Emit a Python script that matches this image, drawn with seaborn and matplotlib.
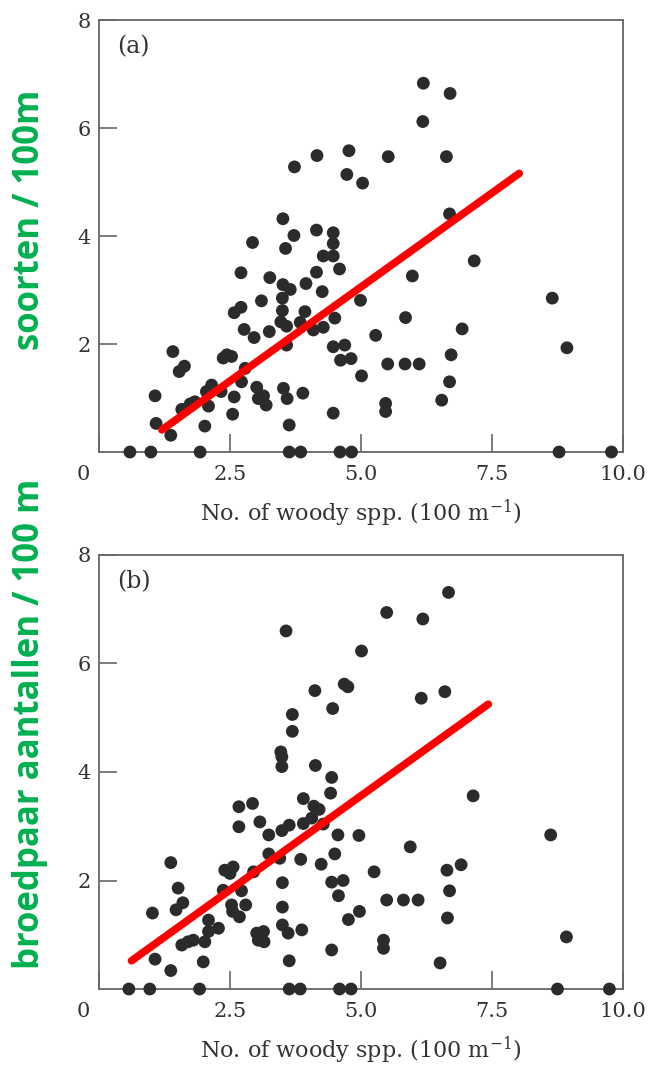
import numpy as np
import matplotlib
matplotlib.use("Agg")
import matplotlib.pyplot as plt
from matplotlib.transforms import ScaledTranslation
import seaborn as sns
import pandas as pd

# panel (a): species per 100 m vs woody spp.
A_X = [3.73, 4.16, 4.77, 4.73, 5.03, 3.51, 2.93, 3.72, 3.56, 4.15, 4.47, 4.47, 4.28, 4.47,
       4.59, 2.71, 3.26, 4.15, 3.51, 3.65, 3.95, 4.26, 3.10, 3.50, 3.50, 3.93, 2.58, 2.71,
       4.99, 3.47, 3.58, 3.84, 4.09, 4.28, 4.50, 2.77, 2.96, 3.25, 3.58, 1.41, 2.37, 2.44,
       2.53, 4.47, 4.69, 4.61, 4.81, 1.53, 1.63, 2.79, 2.72, 5.01, 2.15, 2.05, 2.33, 3.01,
       3.14, 3.04, 3.19, 3.52, 3.59, 3.89, 2.58, 1.07, 2.09, 1.58, 1.74, 1.83, 2.55, 4.47,
       1.09, 1.37, 2.02, 3.63,
       0.59, 0.99, 1.93, 3.63, 3.85, 4.60, 4.82,
       6.19, 6.70, 6.18, 5.52, 6.63, 6.69, 7.16, 5.98, 8.65, 5.85, 6.93, 5.28, 8.93, 6.72,
       5.51, 5.84, 6.11, 6.69, 6.54, 5.47, 5.47, 8.78, 9.78]
A_Y = [5.28, 5.49, 5.58, 5.14, 4.98, 4.32, 3.88, 4.01, 3.77, 4.11, 4.06, 3.86, 3.63, 3.63,
       3.39, 3.32, 3.23, 3.33, 3.10, 3.01, 3.12, 2.97, 2.80, 2.85, 2.62, 2.60, 2.58, 2.68,
       2.81, 2.41, 2.33, 2.40, 2.26, 2.31, 2.48, 2.27, 2.12, 2.23, 1.98, 1.86, 1.74, 1.80,
       1.77, 1.95, 1.98, 1.70, 1.73, 1.49, 1.59, 1.55, 1.30, 1.41, 1.24, 1.12, 1.12, 1.20,
       1.04, 0.99, 0.87, 1.18, 0.99, 1.09, 1.02, 1.04, 0.85, 0.79, 0.89, 0.93, 0.70, 0.72,
       0.53, 0.31, 0.48, 0.50,
       0, 0, 0, 0, 0, 0, 0,
       6.83, 6.64, 6.12, 5.47, 5.47, 4.41, 3.54, 3.26, 2.85, 2.49, 2.28, 2.16, 1.93, 1.80,
       1.63, 1.63, 1.63, 1.30, 0.96, 0.90, 0.75, 0, 0]
A_LINE_X = [1.20, 8.02]
A_LINE_Y = [0.41, 5.16]

# panel (b): breeding pairs per 100 m vs woody spp.
B_X = [3.57, 5.01, 4.12, 4.68, 4.75, 4.46, 3.69, 3.69, 3.47, 3.49, 3.49, 4.13, 4.44,
       4.42, 2.67, 2.93, 3.90, 4.10, 4.20, 2.67, 3.07, 3.49, 3.63, 3.90, 4.06, 4.28, 3.24,
       4.56, 4.96, 3.24, 3.45, 3.85, 4.24, 4.50, 1.37, 2.40, 2.50, 2.56, 2.95, 5.25, 3.50,
       4.44, 4.66, 4.57, 1.51, 2.37, 2.72, 1.47, 1.60, 1.02, 2.53, 2.55, 2.68, 2.80, 3.50,
       4.97, 4.76, 2.09, 2.28, 2.09, 3.50, 3.61, 3.87, 3.01, 3.14, 3.04, 3.15, 1.58, 1.70,
       1.80, 2.02, 4.44, 1.07, 1.99, 1.37, 3.63,
       0.57, 0.97, 1.92, 3.63, 3.84, 4.59, 4.81,
       6.67, 5.49, 6.18, 6.15, 6.60, 7.14, 8.62, 5.94, 6.91, 6.64, 6.69, 5.49, 5.81, 6.09,
       6.65, 5.43, 5.43, 8.92, 6.51, 8.75, 9.74]
B_Y = [6.60, 6.23, 5.50, 5.62, 5.57, 5.17, 5.06, 4.75, 4.37, 4.28, 4.10, 4.12, 3.90,
       3.61, 3.36, 3.42, 3.51, 3.37, 3.31, 2.99, 3.08, 2.92, 3.02, 3.05, 3.15, 3.04, 2.84,
       2.84, 2.83, 2.49, 2.41, 2.39, 2.30, 2.49, 2.33, 2.19, 2.13, 2.25, 2.16, 2.16, 1.96,
       1.97, 2.00, 1.72, 1.86, 1.82, 1.81, 1.46, 1.59, 1.40, 1.55, 1.43, 1.33, 1.55, 1.51,
       1.43, 1.28, 1.27, 1.12, 1.06, 1.18, 1.03, 1.09, 1.03, 1.06, 0.90, 0.87, 0.81, 0.87,
       0.90, 0.87, 0.72, 0.55, 0.50, 0.34, 0.52,
       0, 0, 0, 0, 0, 0, 0,
       7.31, 6.94, 6.82, 5.36, 5.48, 3.56, 2.84, 2.62, 2.29, 2.19, 1.81, 1.64, 1.64, 1.64,
       1.31, 0.90, 0.75, 0.96, 0.48, 0, 0]
B_LINE_X = [0.62, 7.43]
B_LINE_Y = [0.52, 5.25]

XTICKS = [0, 2.5, 5, 7.5, 10]
XTICK_LABELS = ["0", "2.5", "5.0", "7.5", "10.0"]
YTICKS = [2, 4, 6, 8]
YTICK_LABELS = ["2", "4", "6", "8"]
XLABEL = "No. of woody spp. (100 m$^{-1}$)"
YLABEL_A = "soorten / 100m"
YLABEL_B = "broedpaar aantallen / 100 m"

DOT = "#2b2b2b"
SPINE = "#666666"
TXT = "#333333"
GREEN = "#00B050"

sns.set_style("ticks")
plt.rcParams["font.family"] = ["DejaVu Serif"]
plt.rcParams["mathtext.fontset"] = "dejavuserif"

fig = plt.figure(figsize=(6.56, 10.77), dpi=100)
ax_a = fig.add_axes([0.1509, 0.5803, 0.7988, 0.4011])
ax_b = fig.add_axes([0.1509, 0.0817, 0.7988, 0.4030])

panels = [
    (ax_a, A_X, A_Y, A_LINE_X, A_LINE_Y, "(a)", YLABEL_A, 0.7957),
    (ax_b, B_X, B_Y, B_LINE_X, B_LINE_Y, "(b)", YLABEL_B, 0.3278),
]

for ax, xs, ys, lx, ly, tag, ylab, ylab_y in panels:
    df = pd.DataFrame({"x": xs, "y": ys})
    sns.scatterplot(data=df, x="x", y="y", ax=ax, s=85, color=DOT,
                    edgecolor="none", linewidth=0, clip_on=False, zorder=3)
    sns.lineplot(x=lx, y=ly, ax=ax, color="#ff0000", lw=5.5, sort=False, zorder=4)
    ax.set_xlim(0, 10)
    ax.set_ylim(0, 8)
    ax.set_xticks(XTICKS)
    ax.set_xticklabels(XTICK_LABELS)
    ax.set_yticks(YTICKS)
    ax.set_yticklabels(YTICK_LABELS)
    ax.tick_params(direction="in", length=13, width=1.2, color=SPINE,
                   labelsize=15, labelcolor=TXT)
    ax.tick_params(axis="y", pad=6)
    ax.tick_params(axis="x", pad=9)
    # origin label sits in the corner, left of the axis
    lbl0 = ax.get_xticklabels()[0]
    lbl0.set_horizontalalignment("right")
    lbl0.set_transform(lbl0.get_transform() + ScaledTranslation(-0.09, 0, fig.dpi_scale_trans))
    for sp in ax.spines.values():
        sp.set_visible(True)
        sp.set_color(SPINE)
        sp.set_linewidth(1.3)
    ax.set_xlabel(XLABEL, fontsize=16, color=TXT, labelpad=10)
    ax.set_ylabel("")
    ax.text(0.035, 0.965, tag, transform=ax.transAxes, ha="left", va="top",
            fontsize=17, color=TXT)
    fig.text(0.046, ylab_y, ylab, rotation=90, ha="center", va="center",
             fontsize=25, fontweight="bold", color=GREEN, family=["Open Sans"])

fig.savefig("out.png", dpi=100)
